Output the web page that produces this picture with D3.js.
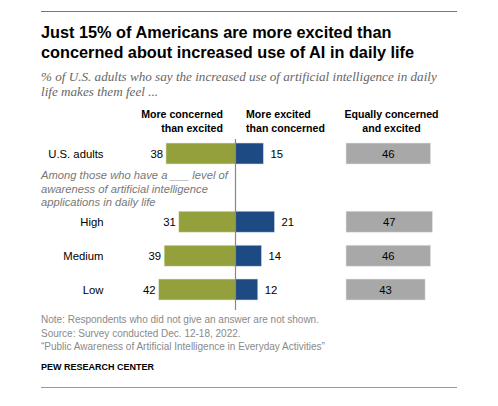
<!DOCTYPE html>
<html><head><meta charset="utf-8">
<script src="https://cdn.jsdelivr.net/npm/d3@7"></script>
<style>body{margin:0;background:#fff}svg{display:block}</style>
</head><body>
<script>
const categories = ["U.S. adults", "High", "Medium", "Low"];
const concerned = [38, 31, 39, 42];
const excited = [15, 21, 14, 12];
const equally = [46, 47, 46, 43];
const headers = [["More concerned","than excited"],["More excited","than concerned"],["Equally concerned","and excited"]];
const title = ["Just 15% of Americans are more excited than","concerned about increased use of AI in daily life"];
const subtitle = ["% of U.S. adults who say the increased use of artificial intelligence in daily","life makes them feel ..."];
const note = ["Among those who have a ___ level of","awareness of artificial intelligence","applications in daily life"];
const footer = ["Note: Respondents who did not give an answer are not shown.","Source: Survey conducted Dec. 12-18, 2022.","\u201cPublic Awareness of Artificial Intelligence in Everyday Activities\u201d"];

const W = 498, H = 406;
const svg = d3.select("body").append("svg").attr("width", W).attr("height", H);
const sans = "'Liberation Sans', Arial, sans-serif";
const serif = "'Liberation Serif', 'Times New Roman', serif";

// scale font-size of a selection so its first node spans target width
function fit(sel, target) {
  const node = sel.node();
  const fs0 = parseFloat(sel.attr("font-size"));
  const w = node.getComputedTextLength();
  if (w > 0) sel.attr("font-size", fs0 * target / w);
}

svg.append("line").attr("x1",41).attr("x2",457).attr("y1",11.5).attr("y2",11.5).attr("stroke","#777").attr("stroke-width",1);
svg.append("line").attr("x1",41).attr("x2",457).attr("y1",387.5).attr("y2",387.5).attr("stroke","#999").attr("stroke-width",1);

const tsel = svg.selectAll("text.title").data(title).join("text").attr("class","title")
  .attr("x",41).attr("y",(d,i)=>38+i*20).text(d=>d)
  .attr("font-family",sans).attr("font-weight","bold").attr("font-size",16.3).attr("fill","#000");

const ssel = svg.selectAll("text.sub").data(subtitle).join("text").attr("class","sub")
  .attr("x",41).attr("y",(d,i)=>81+i*15).text(d=>d)
  .attr("font-family",serif).attr("font-style","italic").attr("font-size",12.5).attr("fill","#666");
fit(ssel, 396);
ssel.attr("font-size", ssel.attr("font-size"));

const rowY = {"U.S. adults":153.5,"High":221.7,"Medium":255.7,"Low":289.5};
const bh = 21;
const zero = 235.5;
const xL = d3.scaleLinear().domain([0,100]).range([zero, zero-183]);
const xR = d3.scaleLinear().domain([0,100]).range([zero, zero+186]);
const xG = d3.scaleLinear().domain([0,100]).range([346, 346+184]);

// headers
const hdr = [{x:223, anchor:"end"},{x:246, anchor:"start"},{x:391.5, anchor:"middle"}];
headers.forEach((h,i)=>{
  svg.append("g").selectAll("text").data(h).join("text")
    .attr("x",hdr[i].x).attr("y",(d,j)=>118+j*14).attr("text-anchor",hdr[i].anchor)
    .text(d=>d).attr("font-family",sans).attr("font-weight","bold").attr("font-size",10.6).attr("fill","#000");
});

const rows = categories.map((c,i)=>({c, a:concerned[i], b:excited[i], e:equally[i]}));

svg.append("g").selectAll("rect").data(rows).join("rect")
  .attr("x",d=>xL(d.a)).attr("width",d=>xL(0)-xL(d.a))
  .attr("y",d=>rowY[d.c]-bh/2).attr("height",bh).attr("fill","#93A03B").attr("stroke","#e8ecd8").attr("stroke-width",0.6);
svg.append("g").selectAll("rect").data(rows).join("rect")
  .attr("x",xR(0)).attr("width",d=>xR(d.b)-xR(0))
  .attr("y",d=>rowY[d.c]-bh/2).attr("height",bh).attr("fill","#1E4A84").attr("stroke","#d4dbe6").attr("stroke-width",0.6);
svg.append("g").selectAll("rect").data(rows).join("rect")
  .attr("x",xG(0)).attr("width",d=>xG(d.e)-xG(0))
  .attr("y",d=>rowY[d.c]-bh/2).attr("height",bh).attr("fill","#A8A8A8").attr("stroke","#e6e6e6").attr("stroke-width",0.6);

svg.append("line").attr("x1",zero).attr("x2",zero).attr("y1",139).attr("y2",310).attr("stroke","#888").attr("stroke-width",1.2);

const fs = 11.3;
svg.append("g").selectAll("text").data(rows).join("text")
  .attr("x",103.5).attr("y",d=>rowY[d.c]+4).attr("text-anchor","end").text(d=>d.c)
  .attr("font-family",sans).attr("font-size",fs).attr("fill","#000");
svg.append("g").selectAll("text").data(rows).join("text")
  .attr("x",d=>xL(d.a)-3).attr("y",d=>rowY[d.c]+4).attr("text-anchor","end").text(d=>d.a)
  .attr("font-family",sans).attr("font-size",fs).attr("fill","#000");
svg.append("g").selectAll("text").data(rows).join("text")
  .attr("x",d=>xR(d.b)+7).attr("y",d=>rowY[d.c]+4).attr("text-anchor","start").text(d=>d.b)
  .attr("font-family",sans).attr("font-size",fs).attr("fill","#000");
svg.append("g").selectAll("text").data(rows).join("text")
  .attr("x",d=>(xG(0)+xG(d.e))/2).attr("y",d=>rowY[d.c]+4).attr("text-anchor","middle").text(d=>d.e)
  .attr("font-family",sans).attr("font-size",fs).attr("fill","#000");

const nsel = svg.append("g").selectAll("text").data(note).join("text")
  .attr("x",41).attr("y",(d,i)=>179+i*13.5).text(d=>d)
  .attr("font-family",sans).attr("font-style","italic").attr("font-size",11).attr("fill","#777");
fit(nsel, 187);
nsel.attr("font-size", nsel.attr("font-size"));

const fsel = svg.append("g").selectAll("text").data(footer).join("text")
  .attr("x",41).attr("y",(d,i)=>323+i*13.5).text(d=>d)
  .attr("font-family",sans).attr("font-size",10).attr("fill","#8a8a8a");
fit(fsel, 278);
fsel.attr("font-size", fsel.attr("font-size"));

const psel = svg.append("text").attr("x",41).attr("y",369.5).text("PEW RESEARCH CENTER")
  .attr("font-family",sans).attr("font-weight","bold").attr("font-size",9.6).attr("fill","#000");
fit(psel, 113);
</script>
</body></html>
